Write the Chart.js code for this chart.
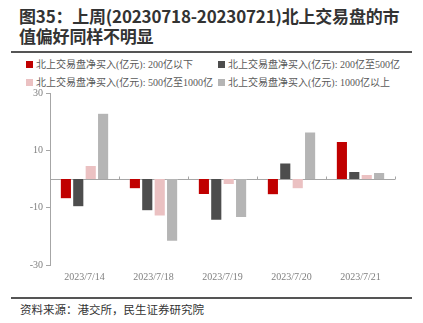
<!DOCTYPE html>
<html><head><meta charset="utf-8">
<script src="https://cdn.jsdelivr.net/npm/chart.js@4"></script>
<style>
html,body{margin:0;padding:0;background:#fff;width:423px;height:323px;overflow:hidden;position:relative;font-family:"Noto Sans CJK SC",sans-serif;}
#title{position:absolute;left:19px;top:6px;width:420px;font-size:17px;font-weight:bold;color:#333;line-height:20px;white-space:nowrap;letter-spacing:-0.2px;}
.rule{position:absolute;left:11px;width:401px;height:2px;background:#555;}
#legend{position:absolute;left:26px;top:56px;width:390px;font-family:"Liberation Serif","Noto Sans CJK SC",serif;font-size:10px;color:#595959;}
.li{position:absolute;white-space:nowrap;}
.sw{display:inline-block;width:7px;height:7px;margin-right:3px;vertical-align:0px;}
#src{position:absolute;left:20px;top:301px;font-size:11.5px;color:#333;}
#wrap{position:absolute;left:0;top:84px;width:423px;height:201px;}
</style></head><body>
<div id="title">图35：上周(20230718-20230721)北上交易盘的市<br>值偏好同样不明显</div>
<div class="rule" style="top:51px"></div>
<div id="legend"></div>
<div id="wrap"><canvas id="c"></canvas></div>
<div class="rule" style="top:297px"></div>
<div id="src">资料来源：港交所，民生证券研究院</div>
<script>
const categories = ["2023/7/14","2023/7/18","2023/7/19","2023/7/20","2023/7/21"];
const seriesNames = ["北上交易盘净买入(亿元): 200亿以下","北上交易盘净买入(亿元): 200亿至500亿","北上交易盘净买入(亿元): 500亿至1000亿","北上交易盘净买入(亿元): 1000亿以上"];
const below200 = [-6.9, -3.4, -5.4, -5.5, 13.1];
const from200to500 = [-9.7, -11.1, -14.4, 5.6, 2.6];
const from500to1000 = [4.7, -12.9, -1.9, -3.4, 1.6];
const above1000 = [22.9, -21.7, -13.4, 16.4, 2.3];
const yTicks = [-30, -10, 10, 30];
const colors = ["#C00000","#4D4D4D","#EBC1C2","#B5B5B5"];
const seriesValues = [below200, from200to500, from500to1000, above1000];

const legend = document.getElementById('legend');
const pos = [[0,0],[192,0],[0,18],[192,18]];
seriesNames.forEach((n,i)=>{
  const d=document.createElement('div');d.className='li';
  d.style.left=pos[i][0]+'px';d.style.top=pos[i][1]+'px';
  d.innerHTML='<span class="sw" style="background:'+colors[i]+'"></span>'+n;
  legend.appendChild(d);
});

const zeroLine = {
  id:'zeroLine',
  beforeDatasetsDraw(chart){
    const {ctx, chartArea:a, scales:{x,y}} = chart;
    const y0 = Math.round(y.getPixelForValue(0))+0.5;
    ctx.save();
    ctx.strokeStyle='#A6A6A6';ctx.lineWidth=1;
    ctx.beginPath();ctx.moveTo(a.left,y0);ctx.lineTo(a.right,y0);
    const w=(a.right-a.left)/categories.length;
    for(let i=1;i<=categories.length;i++){
      const xx=Math.round(a.left+w*i)+0.5;
      ctx.moveTo(xx,y0);ctx.lineTo(xx,y0-3);
    }
    ctx.stroke();ctx.restore();
  }
};

new Chart(document.getElementById('c'),{
  type:'bar',
  data:{labels:categories,datasets:seriesValues.map((v,i)=>({label:seriesNames[i],data:v,backgroundColor:colors[i],borderColor:'rgba(255,255,255,0.6)',borderWidth:0.5,categoryPercentage:0.72,barPercentage:0.9}))},
  options:{
    responsive:true,maintainAspectRatio:false,animation:false,
    layout:{padding:{left:0,right:28,top:6,bottom:0}},
    plugins:{legend:{display:false},tooltip:{enabled:false}},
    scales:{
      x:{grid:{display:false,drawTicks:false},border:{display:false},
         ticks:{padding:6,color:'#7f7f7f',font:{family:'"Liberation Serif",serif',size:10}},
         afterFit(s){s.height=20;}},
      y:{min:-30,max:30,
         afterBuildTicks(s){s.ticks=yTicks.map(v=>({value:v}));},
         afterFit(s){s.width=50;},
         grid:{display:true,drawOnChartArea:false,drawTicks:true,tickLength:4,color:'#A6A6A6'},
         border:{display:true,color:'#A6A6A6'},
         ticks:{padding:3,color:'#7f7f7f',font:{family:'"Liberation Serif",serif',size:10}}}
    }
  },
  plugins:[zeroLine]
});
</script>
</body></html>
